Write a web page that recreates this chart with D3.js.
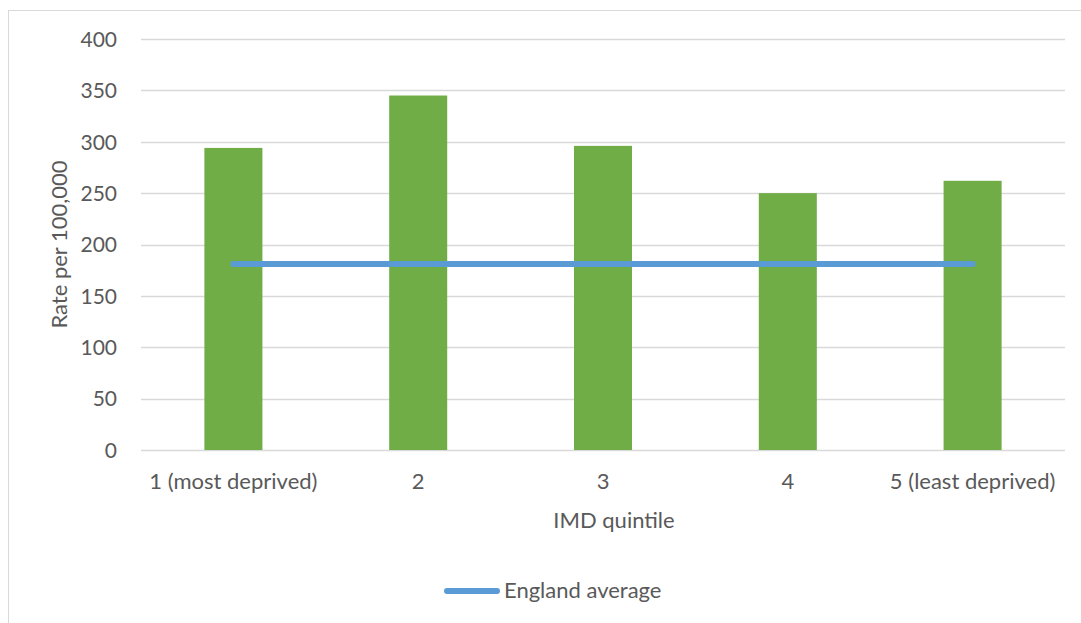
<!DOCTYPE html>
<html>
<head>
<meta charset="utf-8">
<script src="https://cdn.jsdelivr.net/npm/d3@7"></script>
<style>
  html, body { margin: 0; padding: 0; background: #ffffff; }
  svg { display: block; }
  text { font-family: Lato, "Open Sans", sans-serif; fill: #595959; }
</style>
</head>
<body>
<script>
// Rate per 100,000 by IMD quintile, with the England average
const categories = ["1 (most deprived)", "2", "3", "4", "5 (least deprived)"];
const rates = [294, 345, 296, 250, 262];
const englandAverage = [181, 181, 181, 181, 181];
const yTicks = [0, 50, 100, 150, 200, 250, 300, 350, 400];

const W = 1081, H = 623;
const plot = { left: 141, right: 1065, top: 39, bottom: 450 };

const svg = d3.select("body").append("svg")
  .attr("width", W).attr("height", H);

// Chart frame
svg.append("rect")
  .attr("x", 8.5).attr("y", 10.5)
  .attr("width", W + 20).attr("height", H + 20)
  .attr("fill", "none").attr("stroke", "#d9d9d9").attr("stroke-width", 1);

const x = d3.scaleBand()
  .domain(categories)
  .range([plot.left, plot.right])
  .paddingInner(0.686)
  .paddingOuter(0.343);

const y = d3.scaleLinear()
  .domain([0, 400])
  .range([plot.bottom, plot.top]);

// Gridlines
svg.append("g")
  .selectAll("line")
  .data(yTicks)
  .join("line")
  .attr("x1", plot.left).attr("x2", plot.right)
  .attr("y1", d => Math.round(y(d)) + 0.5)
  .attr("y2", d => Math.round(y(d)) + 0.5)
  .attr("stroke", "#d9d9d9").attr("stroke-width", 1.3);

// Y axis labels
const yAxis = d3.axisLeft(y).tickValues(yTicks).tickSize(0).tickPadding(0);
const gy = svg.append("g")
  .attr("transform", `translate(${plot.left - 24},0)`)
  .call(yAxis);
gy.select(".domain").remove();
gy.selectAll("text")
  .style("font-size", "21px")
  .attr("dy", "0.35em");

// Bars
svg.append("g")
  .selectAll("rect")
  .data(rates)
  .join("rect")
  .attr("x", (d, i) => x(categories[i]))
  .attr("y", d => y(d))
  .attr("width", x.bandwidth())
  .attr("height", d => y(0) - y(d))
  .attr("fill", "#70ad47");

// England average line
const line = d3.line()
  .x((d, i) => x(categories[i]) + x.bandwidth() / 2)
  .y(d => y(d));
svg.append("path")
  .datum(englandAverage)
  .attr("d", line)
  .attr("fill", "none")
  .attr("stroke", "#5b9bd5")
  .attr("stroke-width", 6)
  .attr("stroke-linecap", "round");

// X axis labels
const xAxis = d3.axisBottom(x).tickSize(0).tickPadding(0);
const gx = svg.append("g")
  .attr("transform", `translate(0,${plot.bottom + 23})`)
  .call(xAxis);
gx.select(".domain").remove();
gx.selectAll("text")
  .style("font-size", "22px")
  .attr("dy", "0.71em");

// Axis titles
svg.append("text")
  .attr("x", 614)
  .attr("y", 528)
  .attr("text-anchor", "middle")
  .style("font-size", "22px")
  .text("IMD quintile");

svg.append("text")
  .attr("transform", `translate(67,${(plot.top + plot.bottom) / 2}) rotate(-90)`)
  .attr("text-anchor", "middle")
  .style("font-size", "22px")
  .text("Rate per 100,000");

// Legend
const legend = svg.append("g");
legend.append("line")
  .attr("x1", 447).attr("x2", 497)
  .attr("y1", 591).attr("y2", 591)
  .attr("stroke", "#5b9bd5").attr("stroke-width", 6)
  .attr("stroke-linecap", "round");
legend.append("text")
  .attr("x", 504).attr("y", 598)
  .style("font-size", "22px")
  .text("England average");
</script>
</body>
</html>
